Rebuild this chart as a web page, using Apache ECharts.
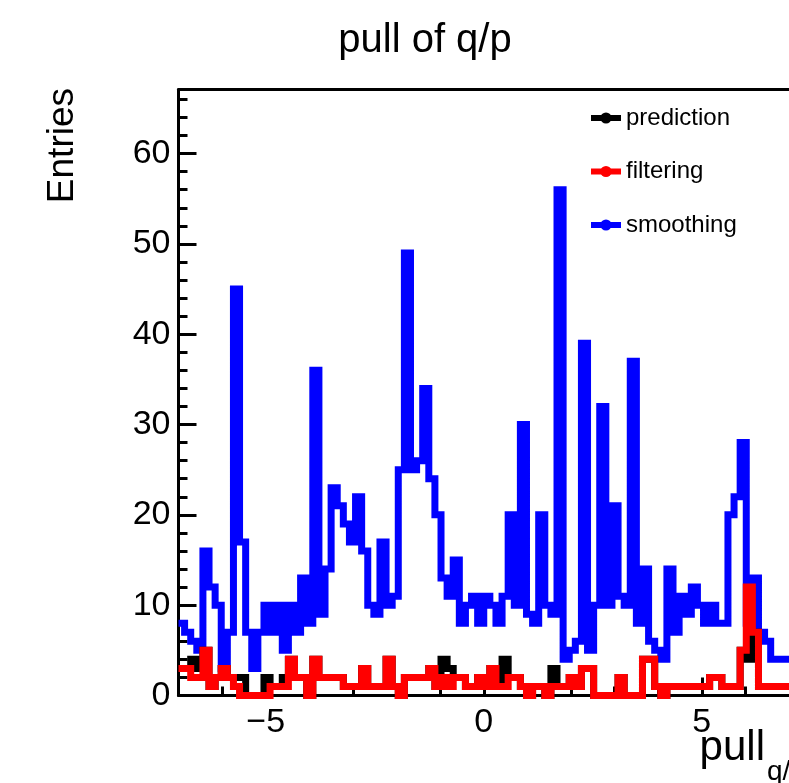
<!DOCTYPE html>
<html><head><meta charset="utf-8">
<script src="https://cdn.jsdelivr.net/npm/echarts@6/dist/echarts.min.js"></script>
<style>html,body{margin:0;padding:0;background:#fff}#c{width:789px;height:783px}</style>
</head><body><div id="c"></div>
<script>
// histogram range
const xMin = -7, xMax = 7;
// bin contents (100 bins from -7 to 7)
const smoothing = [8,7,6,5,16,12,10,3,7,45,17,7,3,7,10,7,10,5,10,7,
  13,8,36,9,14,23,21,19,17,22,16,10,9,17,10,11,25,49,25,26,
  34,24,20,13,11,15,8,10,11,8,11,10,8,11,20,10,30,9,8,20,
  10,9,56,4,5,6,39,5,10,32,10,21,11,10,37,8,14,6,5,4,
  14,7,11,9,12,10,8,10,8,8,20,22,28,8,13,7,6,4,4,4];
const filtering = [3,3,2,2,5,1,2,3,2,1,0,0,0,0,0,1,1,1,4,2,
  2,0,4,2,2,2,2,1,1,1,3,1,1,1,4,1,0,2,2,2,
  2,3,1,2,1,2,2,1,1,2,1,3,1,1,2,2,1,0,1,1,
  0,1,1,1,2,1,3,3,0,0,0,0,2,0,0,0,4,4,1,0,
  1,1,1,1,1,1,1,2,2,1,1,1,5,12,7,1,1,1,1,1];
const prediction = [3,3,4,3,5,1,2,3,2,2,2,0,0,0,2,1,1,2,4,2,
  2,0,4,2,2,2,2,1,1,1,3,1,1,1,4,1,0,2,2,2,
  2,3,1,4,3,2,2,1,1,2,1,3,1,4,2,2,1,0,1,1,
  0,3,1,1,2,1,3,3,0,0,0,0,2,0,0,0,4,4,1,0,
  1,1,1,1,1,1,1,2,2,1,1,1,5,4,7,1,1,1,1,1];
const xTickValues = [-5, 0, 5];
const xMinorTickValues = [-6,-4,-3,-2,-1,1,2,3,4,6];
const yTickValues = [0, 10, 20, 30, 40, 50, 60];
const yMinorTickValues = [2,4,6,8,12,14,16,18,22,24,26,28,32,34,36,38,42,44,46,48,52,54,56,58,62,64,66];
const yMax = 67.1;

function toSteps(vals) {
  const w = (xMax - xMin) / vals.length;
  const d = vals.map((v, i) => [xMin + i * w, v]);
  d.push([xMax, vals[vals.length - 1]]);
  return d;
}
const FONT = 'Liberation Sans';
const chart = echarts.init(document.getElementById('c'), null, {renderer: 'canvas'});
const grid = {left: 178.5, right: 0, top: 89.5, bottom: 87.5, containLabel: false};
function histSeries(name, vals, color) {
  return {
    name, type: 'line', step: 'end', data: toSteps(vals),
    symbol: 'circle', symbolSize: 11, showSymbol: false, clip: false,
    lineStyle: {color, width: 7, join: 'miter', cap: 'butt'},
    itemStyle: {color}, emphasis: {disabled: true}, animation: false
  };
}
chart.setOption({
  animation: false,
  title: {text: 'pull of q/p', left: 420, top: 16, textAlign: 'center',
    textStyle: {fontFamily: FONT, fontSize: 40, fontWeight: 'normal', color: '#000'}},
  legend: {
    orient: 'vertical', left: 583, top: 101, itemGap: 29.5, itemWidth: 30, itemHeight: 14,
    data: ['prediction', 'filtering', 'smoothing'],
    lineStyle: {width: 6},
    textStyle: {fontFamily: FONT, fontSize: 24, color: '#000'},
    selectedMode: false
  },
  grid,
  xAxis: [
    {type: 'value', min: xMin, max: xMax, position: 'bottom',
      axisLine: {show: true, onZero: false, lineStyle: {color: '#000', width: 3}},
      axisTick: {show: true, inside: true, length: 18, customValues: xTickValues, lineStyle: {color: '#000', width: 3}},
      axisLabel: {show: true, customValues: xTickValues, margin: 10, fontFamily: FONT, fontSize: 34, color: '#000',
        formatter: v => String(v).replace('-', '\u2212')},
      splitLine: {show: false}},
    {type: 'value', min: xMin, max: xMax, position: 'bottom', gridIndex: 0,
      axisLine: {show: false, onZero: false},
      axisTick: {show: true, inside: true, length: 9, customValues: xMinorTickValues, lineStyle: {color: '#000', width: 3}},
      axisLabel: {show: false}, splitLine: {show: false}},
    {type: 'value', min: xMin, max: xMax, position: 'top', gridIndex: 0,
      axisLine: {show: true, onZero: false, lineStyle: {color: '#000', width: 3}},
      axisTick: {show: false}, axisLabel: {show: false}, splitLine: {show: false}}
  ],
  yAxis: [
    {type: 'value', min: 0, max: yMax, position: 'left',
      axisLine: {show: true, onZero: false, lineStyle: {color: '#000', width: 3}},
      axisTick: {show: true, inside: true, length: 18, customValues: yTickValues, lineStyle: {color: '#000', width: 3}},
      axisLabel: {show: true, customValues: yTickValues, margin: 8, fontFamily: FONT, fontSize: 34, color: '#000'},
      splitLine: {show: false}},
    {type: 'value', min: 0, max: yMax, position: 'left', gridIndex: 0,
      axisLine: {show: false, onZero: false},
      axisTick: {show: true, inside: true, length: 9, customValues: yMinorTickValues, lineStyle: {color: '#000', width: 3}},
      axisLabel: {show: false}, splitLine: {show: false}}
  ],
  graphic: [
    {type: 'text', x: 63, y: 88, rotation: Math.PI / 2,
      style: {text: 'Entries', font: '37px "Liberation Sans"', fill: '#000', align: 'right', verticalAlign: 'middle'}},
    {type: 'text', x: 765, y: 748, style: {text: 'pull', font: '42px "Liberation Sans"', fill: '#000', align: 'right', verticalAlign: 'middle'}},
    {type: 'text', x: 767, y: 772, style: {text: 'q/p', font: '28px "Liberation Sans"', fill: '#000', align: 'left', verticalAlign: 'middle'}}
  ],
  series: [
    histSeries('smoothing', smoothing, '#0000ff'),
    histSeries('prediction', prediction, '#000000'),
    histSeries('filtering', filtering, '#ff0000')
  ]
});
</script></body></html>
